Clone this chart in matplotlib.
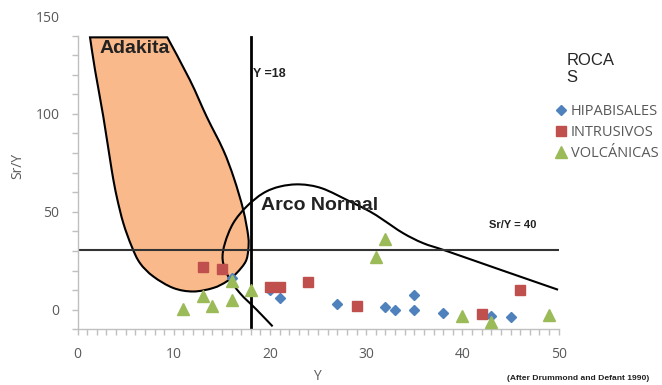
import matplotlib
matplotlib.use("Agg")
import matplotlib.pyplot as plt
from matplotlib.lines import Line2D
from matplotlib.path import Path
from matplotlib.patches import PathPatch

# Sample data (Y ppm vs Sr/Y)
hip_y = [16, 20, 21, 27, 32, 33, 35, 35, 38, 43, 45]
hip_sry = [16, 10, 6, 2.7, 1.5, 0, 7.5, 0, -1.7, -3.4, -3.7]

int_y = [13, 15, 20, 21, 24, 29, 42, 46]
int_sry = [22, 21, 11.5, 11.5, 14.4, 2, -2.4, 10]

vol_y = [11, 13, 14, 16, 16, 18, 31, 32, 40, 43, 49]
vol_sry = [0.5, 6.8, 1.7, 14.5, 5, 10, 27, 36, -3, -6.5, -2.6]

series_names = ["HIPABISALES", "INTRUSIVOS", "VOLCÁNICAS"]

# Discrimination fields (after Drummond and Defant 1990), traced from the overlay
adakita_x = [9.33, 11.68, 13.42, 15.14, 16.25, 17.22, 17.74, 17.74, 17.47,
             16.53, 15.49, 14.10, 12.02, 9.95, 7.87, 6.49, 5.63, 4.76, 4.07,
             3.55, 2.68, 1.82, 1.30]
adakita_sry = [139.1, 117.3, 98.6, 81.6, 67.2, 51.0, 37.4, 30.6, 24.6,
               18.7, 14.4, 11.1, 9.3, 11.1, 17.0, 23.8, 32.3, 44.2, 57.8,
               71.4, 98.6, 122.4, 139.1]

arco_x = [20.27, 18.61, 16.87, 15.66, 15.08, 15.32, 16.18, 17.57, 19.29, 21.03,
          23.1, 25.4, 28.30, 30.37, 31.75, 33.83, 35.91, 38.34, 44.0, 49.93]
arco_sry = [-8.5, 0, 8.5, 17.0, 25.5, 34.0, 44.2, 52.7, 59.5, 62.9,
            64.0, 62.0, 55.3, 50.2, 45.9, 39.1, 34.0, 30.0, 20.3, 10.2]

y_limit = 18
sry_limit = 30.5

GRAY = "#595959"
BOLD = ["Liberation Sans Narrow", "Liberation Sans", "DejaVu Sans"]


def smooth_path(xs, ys, close=False):
    # catmull-rom through the traced points, drawn as cubic beziers
    pts = list(zip(xs, ys))
    verts = [pts[0]]
    codes = [Path.MOVETO]
    n = len(pts)
    for i in range(n - 1):
        p0 = pts[i - 1] if i > 0 else pts[i]
        p1 = pts[i]
        p2 = pts[i + 1]
        p3 = pts[i + 2] if i + 2 < n else pts[i + 1]
        c1 = (p1[0] + (p2[0] - p0[0]) / 6, p1[1] + (p2[1] - p0[1]) / 6)
        c2 = (p2[0] - (p3[0] - p1[0]) / 6, p2[1] - (p3[1] - p1[1]) / 6)
        verts += [c1, c2, p2]
        codes += [Path.CURVE4] * 3
    if close:
        verts.append(pts[0])
        codes.append(Path.CLOSEPOLY)
    return Path(verts, codes)


fig = plt.figure(figsize=(6.62, 3.85), dpi=100)
ax = fig.add_axes([0.1171, 0.1447, 0.7269, 0.8137])

# fields
ax.add_patch(PathPatch(smooth_path(adakita_x, adakita_sry, close=True), facecolor="#F9B98A",
                       edgecolor="black", linewidth=1.5, zorder=1))
ax.add_patch(PathPatch(smooth_path(arco_x, arco_sry), facecolor="none",
                       edgecolor="black", linewidth=1.5, zorder=2))
ax.plot([0, 50], [sry_limit, sry_limit], color="#333333", linewidth=1.5, zorder=2)
ax.plot([y_limit, y_limit], [-10, 139.5], color="black", linewidth=2, zorder=2)

# samples
ax.plot(hip_y, hip_sry, "D", color="#4F81BD", markersize=5.3, linestyle="none", zorder=3)
ax.plot(int_y, int_sry, "s", color="#C0504D", markersize=7.5, linestyle="none", zorder=3)
ax.plot(vol_y, vol_sry, "^", color="#9BBB59", markersize=8, linestyle="none", zorder=3)

# field labels
ax.text(2.3, 131, "Adakita", family=BOLD, fontweight="bold", fontsize=14, color="#222222", va="baseline")
ax.text(19.1, 51, "Arco Normal", family=BOLD, fontweight="bold", fontsize=14, color="#222222", va="baseline")
ax.text(18.2, 118.7, "Y =18", family=BOLD, fontweight="bold", fontsize=9, color="#222222", va="baseline")
ax.text(42.8, 41.7, "Sr/Y = 40", family=BOLD, fontweight="bold", fontsize=8, color="#222222", va="baseline")

# axes styling
ax.set_xlim(0, 50)
ax.set_ylim(-10, 150)
for side in ["top", "right"]:
    ax.spines[side].set_visible(False)
for side in ["left", "bottom"]:
    ax.spines[side].set_color("#BFBFBF")
    ax.spines[side].set_linewidth(1)
ax.spines["left"].set_bounds(-10, 140)

xt = list(range(0, 51))
ax.set_xticks(xt)
ax.set_xticklabels([str(v) if v % 10 == 0 else "" for v in xt])
yt = list(range(-10, 151, 10))
ax.set_yticks(yt)
ax.set_yticklabels([str(v) if v % 50 == 0 else "" for v in yt])
ax.yaxis.get_major_ticks()[-1].tick1line.set_visible(False)
ax.tick_params(direction="out", length=4, width=1, color="#BFBFBF", labelcolor=GRAY,
               labelsize=10, pad=9)
for lab in ax.get_xticklabels() + ax.get_yticklabels():
    lab.set_family("Open Sans")

ax.set_xlabel("Y", fontsize=10, color=GRAY, family="Open Sans")
ax.set_ylabel("Sr/Y", fontsize=10, color=GRAY, family="Open Sans")
ax.xaxis.set_label_coords(0.498, -0.128)
ax.yaxis.set_label_coords(-0.109, 0.522)

# legend
handles = [
    Line2D([], [], marker="D", color="#4F81BD", markersize=5.3, linestyle="none"),
    Line2D([], [], marker="s", color="#C0504D", markersize=7.5, linestyle="none"),
    Line2D([], [], marker="^", color="#9BBB59", markersize=8, linestyle="none"),
]
leg = ax.legend(handles, series_names, loc="upper left", bbox_to_anchor=(555 / 662, 1 - 104 / 385),
                bbox_transform=fig.transFigure, frameon=False, handlelength=0.8, handletextpad=0.3,
                borderpad=0, borderaxespad=0, labelspacing=0.42,
                prop={"family": "Open Sans", "size": 10.5})
for t in leg.get_texts():
    t.set_color(GRAY)

fig.text(566.7 / 662, 1 - 82 / 385, "ROCA\nS", family="Liberation Sans", fontsize=12,
         color="#262626", va="baseline", linespacing=1.15)
fig.text(507 / 662, 1 - 380 / 385, "(After Drummond and Defant 1990)", family=BOLD,
         fontweight="bold", fontsize=6.1, color="#222222", va="baseline")

fig.savefig("out.png", dpi=100)
